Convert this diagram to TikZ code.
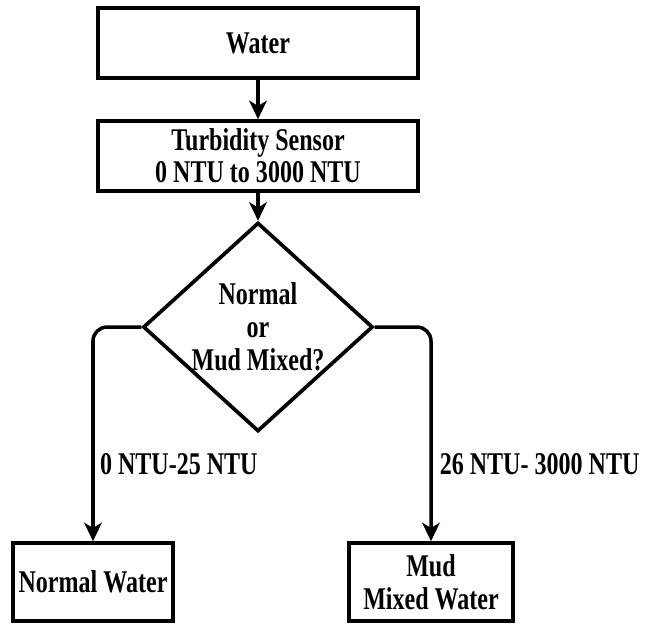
\documentclass[tikz,border=0pt]{standalone}
\usepackage{fontspec}
\setmainfont{Liberation Serif}[FakeStretch=0.76]
\usetikzlibrary{arrows.meta, positioning, shapes.geometric}
\tikzset{
  every picture/.style={font=\fontsize{18pt}{18.7pt}\selectfont\bfseries, line width=2.1pt},
  box/.style={draw=black, align=center, inner sep=0pt},
  decision/.style={draw=black, diamond, align=center, inner sep=0pt, shape aspect=1.1},
  arrow/.style={-{Stealth[length=10.5pt, width=10pt, inset=3pt]}, draw=black, line width=2pt},
  rangelabel/.style={inner sep=0pt},
}

\begin{document}
\begin{tikzpicture}[x=0.02cm, y=-0.02cm]
  \useasboundingbox (0,0) rectangle (645,623);
  \node[box, minimum width=6.4cm, minimum height=1.4cm] (water) at (258,43) {Water};
  \node[box, minimum width=6.4cm, minimum height=1.4cm] (sensor) at (258,156) {Turbidity Sensor\\[-0.5pt]0 NTU to 3000 NTU};
  \node[decision, minimum width=4.5cm, minimum height=4.1cm] (check) at (258,327) {Normal\\or\\Mud Mixed?};
  \node[box, minimum width=3.2cm, minimum height=1.56cm] (normal) at (93,582) {Normal Water};
  \node[box, minimum width=3.28cm, minimum height=1.56cm] (mud) at (431,582) {Mud\\Mixed Water};
  % flow
  \draw[arrow] (water) -- (sensor);
  \draw[arrow] (sensor) -- (check);
  \draw[arrow, rounded corners=8pt] (check.west) -| (normal.north)
    node[rangelabel, pos=0.82, anchor=west, xshift=3pt] (lowlabel) {0 NTU-25 NTU};
  \draw[arrow, rounded corners=8pt] (check.east) -| (mud.north)
    node[rangelabel, pos=0.82, anchor=west, xshift=4pt] (highlabel) {26 NTU- 3000 NTU};
\end{tikzpicture}
\end{document}
